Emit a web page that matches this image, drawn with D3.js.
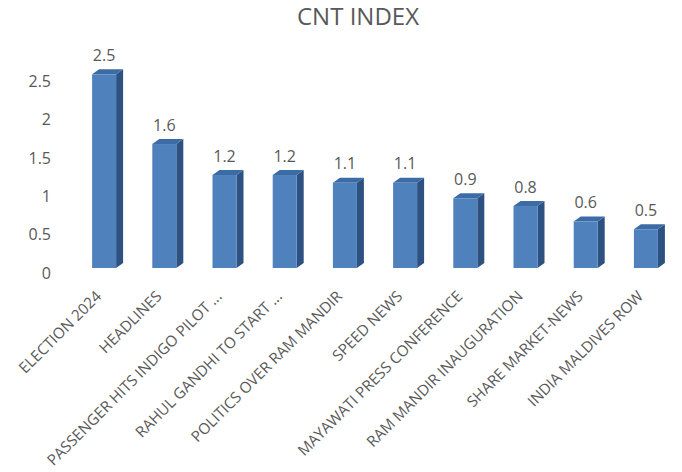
<!DOCTYPE html>
<html><head><meta charset="utf-8">
<script src="https://cdn.jsdelivr.net/npm/d3@7"></script>
<style>body{margin:0;background:#fff;} svg{display:block;}</style>
</head><body>
<svg id="c" width="682" height="472"></svg>
<script>
const categories = ["ELECTION 2024","HEADLINES","PASSENGER HITS INDIGO PILOT ...","RAHUL GANDHI TO START ...","POLITICS OVER RAM MANDIR","SPEED NEWS","MAYAWATI PRESS CONFERENCE","RAM MANDIR INAUGURATION","SHARE MARKET-NEWS","INDIA MALDIVES ROW"];
const values = [2.5, 1.6, 1.2, 1.2, 1.1, 1.1, 0.9, 0.8, 0.6, 0.5];
const yTicks = [0, 0.5, 1, 1.5, 2, 2.5];
const title = "CNT INDEX";

const svg = d3.select("#c");
const font = "'Open Sans', sans-serif";
const textColor = "#595959";

const x = d3.scaleBand().domain(categories).range([74, 676]).paddingInner(0).paddingOuter(0);
const barW = 24;
const yBar = d3.scaleLinear().domain([0, 2.5]).range([268, 74.3]);
const yTick = d3.scaleLinear().domain([0, 2.5]).range([273, 81.5]);
const dx = 7, dy = -5;

svg.append("text").attr("x", 358).attr("y", 25).attr("text-anchor", "middle")
  .attr("font-family", font).attr("font-size", 24).attr("fill", textColor).text(title);

svg.append("g").selectAll("text").data(yTicks).join("text")
  .attr("x", 51).attr("y", d => yTick(d) + 5.5).attr("text-anchor", "end")
  .attr("font-family", font).attr("font-size", 16).attr("fill", textColor)
  .text(d => d3.format("")(d));

const bars = svg.append("g").selectAll("g").data(values).join("g");
bars.each(function(v, i) {
  const g = d3.select(this);
  const cx = x(categories[i]) + x.bandwidth() / 2;
  const x0 = cx - barW / 2, x1 = cx + barW / 2;
  const yt = yBar(v), yb = yBar(0);
  g.append("path").attr("d", `M${x1},${yt}L${x1+dx},${yt+dy}L${x1+dx},${yb+dy}L${x1},${yb}Z`).attr("fill", "#2D5180");
  g.append("path").attr("d", `M${x0},${yt}L${x0+dx},${yt+dy}L${x1+dx},${yt+dy}L${x1},${yt}Z`).attr("fill", "#3C6CA6");
  g.append("rect").attr("x", x0).attr("y", yt).attr("width", barW).attr("height", yb - yt).attr("fill", "#4F81BD");
  g.append("text").attr("x", cx).attr("y", yt - 13.5).attr("text-anchor", "middle")
    .attr("font-family", font).attr("font-size", 16).attr("fill", textColor).text(v);
});

svg.append("g").selectAll("text").data(categories).join("text")
  .attr("transform", d => `translate(${x(d) + x.bandwidth()/2 - 5.5},${293.5}) rotate(-45)`)
  .attr("text-anchor", "end").attr("dy", "0.35em")
  .attr("font-family", font).attr("font-size", 15.2).attr("fill", textColor).text(d => d);
</script>
</body></html>
